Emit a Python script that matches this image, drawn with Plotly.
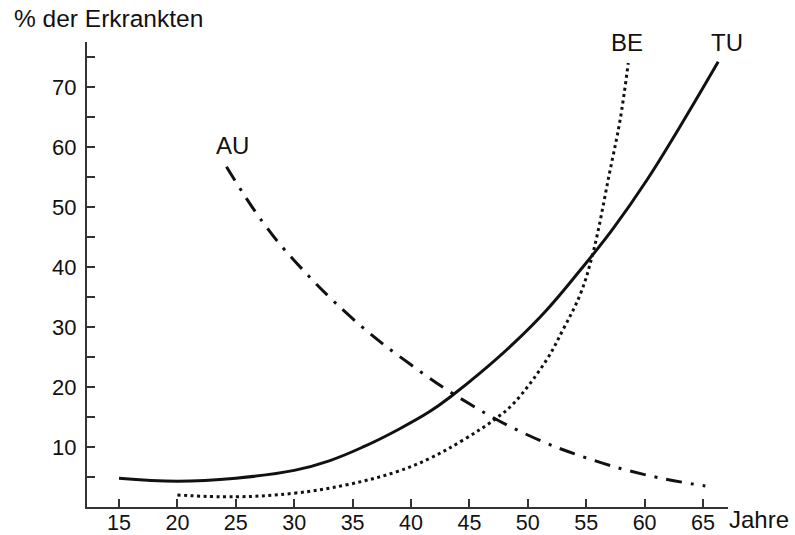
import plotly.graph_objects as go

# Data
tu_x = [15, 20, 25, 30, 33, 36, 38.8, 41.6, 43.6, 45.9, 48.8, 51.6, 54.5, 57.3, 60.2, 63, 66.3]
tu_y = [4.8, 4.3, 4.8, 6.1, 7.7, 10.1, 12.8, 15.9, 18.7, 22.3, 27.3, 32.8, 39.5, 46.4, 54.5, 63.3, 74.2]

be_x = [20, 25, 30, 34.5, 38.8, 41.6, 44.5, 47.3, 48.8, 51.6, 53, 54.5, 55.6, 57.0, 57.9, 58.6]
be_y = [2.0, 1.7, 2.3, 3.7, 5.9, 8.1, 11.2, 14.8, 17.3, 24.5, 29.5, 35.5, 42.5, 55.7, 64.5, 74.0]

au_x = [24.2, 27.3, 30, 35, 40, 45, 50, 55, 60, 65.2]
au_y = [56.7, 47.5, 41.1, 31.4, 23.7, 17.2, 12.0, 8.2, 5.4, 3.5]

x_ticks = [15, 20, 25, 30, 35, 40, 45, 50, 55, 60, 65]
y_ticks = [5, 10, 15, 20, 25, 30, 35, 40, 45, 50, 55, 60, 65, 70, 75]
y_ticklabels = ["", "10", "", "20", "", "30", "", "40", "", "50", "", "60", "", "70", ""]

series_labels = ["TU", "BE", "AU"]
label_pos_x = [67.05, 58.5, 24.7]
label_pos_y = [77.5, 77.5, 60.3]

INK = "#111111"
FONT = "Liberation Sans, Arial, sans-serif"

fig = go.Figure()
fig.add_trace(go.Scatter(x=tu_x, y=tu_y, mode="lines", line=dict(color=INK, width=3, shape="spline", smoothing=1.2), cliponaxis=False))
fig.add_trace(go.Scatter(x=be_x, y=be_y, mode="lines", line=dict(color=INK, width=3, dash="3px,3.5px", shape="spline", smoothing=1.1), cliponaxis=False))
fig.add_trace(go.Scatter(x=au_x, y=au_y, mode="lines", line=dict(color=INK, width=3, dash="16px,9px,3px,9px", shape="spline", smoothing=1.2), cliponaxis=False))

for t, xx, yy in zip(series_labels, label_pos_x, label_pos_y):
    fig.add_annotation(x=xx, y=yy, xref="x", yref="y", text=t, showarrow=False,
                       font=dict(family=FONT, size=24, color=INK), xanchor="center", yanchor="middle")

fig.add_annotation(x=-0.117, y=1.05, xref="paper", yref="paper", text="% der Erkrankten",
                   showarrow=False, font=dict(family=FONT, size=24.5, color=INK), xanchor="left", yanchor="middle")
fig.add_annotation(x=1.0, y=-0.034, xref="paper", yref="paper", text="Jahre", xshift=-1, yshift=3,
                   showarrow=False, font=dict(family=FONT, size=24, color=INK), xanchor="left", yanchor="middle")

fig.update_layout(
    width=795, height=535,
    margin=dict(l=87, r=67, t=42, b=28, autoexpand=False),
    paper_bgcolor="white", plot_bgcolor="white",
    showlegend=False,
    font=dict(family=FONT, size=22, color=INK),
    xaxis=dict(range=[12.26, 67.14], tickvals=x_ticks, ticks="inside", ticklen=8, tickwidth=2,
               tickcolor="#333", showline=True, linecolor="#333", linewidth=2, showgrid=False,
               zeroline=False, automargin=False, ticklabelstandoff=-5,
               tickfont=dict(family=FONT, size=21.5, color=INK)),
    yaxis=dict(range=[0, 77.5], tickvals=y_ticks, ticktext=y_ticklabels, ticks="inside", ticklen=8,
               tickwidth=2, tickcolor="#333", showline=True, linecolor="#333", linewidth=2,
               showgrid=False, zeroline=False, automargin=False, ticklabelstandoff=4,
               tickfont=dict(family=FONT, size=22, color=INK)),
)

# remove the page's default body margin so the figure fills the window exactly
fig.write_html("out.html", config={"displayModeBar": False},
               post_script="document.body.style.margin='0';document.body.style.overflow='hidden';")
